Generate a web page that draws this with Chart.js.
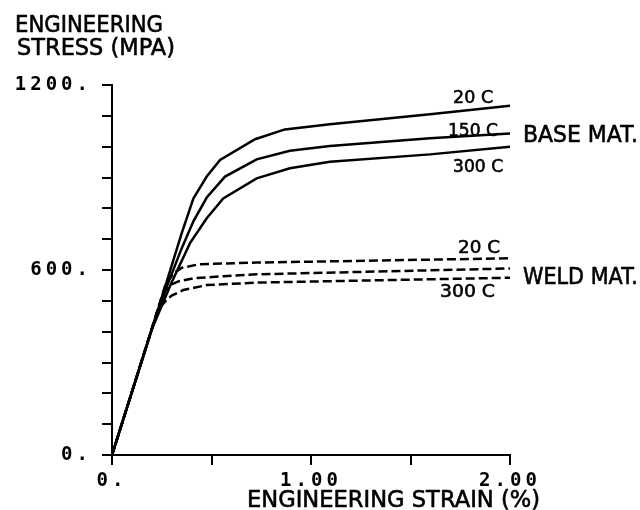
<!DOCTYPE html>
<html>
<head>
<meta charset="utf-8">
<script src="https://cdn.jsdelivr.net/npm/chart.js@4.4.1/dist/chart.umd.min.js"></script>
<style>
  html, body { margin: 0; padding: 0; background: #fff; }
  #wrap { width: 640px; height: 510px; }
</style>
</head>
<body>
<div id="wrap"><canvas id="mycanvas"></canvas></div>
<script>
// strain in %, stress in MPa
var baseStrain20 = [0, 0.233, 0.35, 0.409, 0.476, 0.543, 0.719, 0.869, 1.095, 1.598, 2.0];
var baseStress20 = [0, 475, 719, 832, 903, 957, 1024, 1056, 1073, 1105, 1133];

var baseStrain150 = [0, 0.22, 0.288, 0.35, 0.409, 0.476, 0.568, 0.727, 0.894, 1.095, 1.598, 2.0];
var baseStress150 = [0, 449, 567, 670, 758, 835, 903, 959, 987, 1002, 1027, 1043];

var baseStrain300 = [0, 0.20, 0.30, 0.392, 0.476, 0.559, 0.727, 0.894, 1.095, 1.598, 2.0];
var baseStress300 = [0, 408, 560, 687, 768, 832, 897, 930, 951, 975, 1000];

var weldStrain20 = [0, 0.27, 0.31, 0.35, 0.44, 0.727, 2.0];
var weldStress20 = [0, 555, 590, 607, 619, 624, 638];

var weldStrain150 = [0, 0.26, 0.30, 0.333, 0.409, 0.559, 0.727, 2.0];
var weldStress150 = [0, 530, 553, 563, 573, 580, 586, 605];

var weldStrain300 = [0, 0.23, 0.27, 0.30, 0.358, 0.476, 0.727, 2.0];
var weldStress300 = [0, 470, 500, 517, 535, 551, 559, 575];

var xLabelValues = [0, 1, 2];
var xLabelText = ['0.', '1.00', '2.00'];
var yLabelValues = [0, 600, 1200];
var yLabelText = ['0.', '600.', '1200.'];

var yTitle = ['ENGINEERING', 'STRESS (MPA)'];
var xTitle = 'ENGINEERING STRAIN (%)';
var groupNames = ['BASE MAT.', 'WELD MAT.'];
var tempNames = ['20 C', '150 C', '300 C'];

function pts(xs, ys) {
  var out = [];
  for (var i in xs) {
    out.push({x: xs[i], y: ys[i]});
  }
  return out;
}

function line(label, xs, ys, dashed) {
  return {
    label: label,
    data: pts(xs, ys),
    borderColor: '#000',
    borderWidth: 2.5,
    borderDash: dashed ? [9, 4] : [],
    pointRadius: 0,
    tension: 0,
    fill: false
  };
}

var plotFont = "'DejaVu Sans', sans-serif";
var tickFont = { family: "'DejaVu Sans Mono', monospace", size: 19, weight: 'bold' };

// draw text squeezed/stretched to the lettering width of the plotter
function fitText(ctx, text, x, y, w) {
  var m = ctx.measureText(text).width;
  ctx.save();
  ctx.translate(x, y);
  ctx.scale(w / m, 1);
  ctx.fillText(text, 0, 0);
  ctx.strokeText(text, 0, 0);   // pen strokes are a bit heavier
  ctx.restore();
}

// wide spaced tick numbers
var spacing = {
  id: 'spacing',
  beforeDraw: function(chart) { chart.ctx.letterSpacing = '4px'; },
  beforeDatasetsDraw: function(chart) { chart.ctx.letterSpacing = '0px'; }
};

var notes = {
  id: 'notes',
  afterDraw: function(chart) {
    var ctx = chart.ctx;
    var xs = chart.scales.x, ys = chart.scales.y;
    var px = function(v) { return xs.getPixelForValue(v); };
    var py = function(v) { return ys.getPixelForValue(v); };
    ctx.save();
    ctx.fillStyle = '#000';
    ctx.strokeStyle = '#000';
    ctx.lineWidth = 0.6;
    ctx.textBaseline = 'alphabetic';
    ctx.textAlign = 'left';
    ctx.letterSpacing = '0px';

    ctx.font = '23px ' + plotFont;
    fitText(ctx, yTitle[0], 15, 32, 148);
    fitText(ctx, yTitle[1], 17, 55, 158);
    fitText(ctx, xTitle, 247, 507, 293);
    fitText(ctx, groupNames[0], px(2.065), py(1015), 115);
    fitText(ctx, groupNames[1], px(2.065), py(555), 115);

    ctx.font = '18px ' + plotFont;
    fitText(ctx, tempNames[0], px(1.714), py(1141), 40);
    fitText(ctx, tempNames[1], px(1.688), py(1035), 50);
    fitText(ctx, tempNames[2], px(1.714), py(918), 50);
    fitText(ctx, tempNames[0], px(1.739), py(655), 42);
    fitText(ctx, tempNames[2], px(1.648), py(512), 55);
    ctx.restore();
  }
};

var ctx = document.getElementById('mycanvas');

var chart = new Chart(ctx, {
  type: 'line',
  data: {
    datasets: [
      line('Base 20 C', baseStrain20, baseStress20, false),
      line('Base 150 C', baseStrain150, baseStress150, false),
      line('Base 300 C', baseStrain300, baseStress300, false),
      line('Weld 20 C', weldStrain20, weldStress20, true),
      line('Weld 150 C', weldStrain150, weldStress150, true),
      line('Weld 300 C', weldStrain300, weldStress300, true)
    ]
  },
  options: {
    responsive: true,
    maintainAspectRatio: false,
    animation: false,
    layout: { padding: { left: 0, right: 130, top: 85, bottom: 0 } },
    plugins: {
      legend: { display: false },
      tooltip: { enabled: false }
    },
    scales: {
      x: {
        type: 'linear',
        min: 0,
        max: 2,
        afterFit: function(scale) { scale.height = 55; },
        border: { display: true, color: '#000', width: 2 },
        grid: { drawOnChartArea: false, drawTicks: true, tickLength: 10, color: '#000', lineWidth: 2 },
        ticks: {
          stepSize: 0.5,
          autoSkip: false,
          maxRotation: 0,
          padding: 5,
          color: '#000',
          font: tickFont,
          callback: function(v) {
            var k = xLabelValues.indexOf(v);
            return k < 0 ? '' : xLabelText[k];
          }
        }
      },
      y: {
        type: 'linear',
        min: 0,
        max: 1200,
        afterFit: function(scale) { scale.width = 112; },
        border: { display: true, color: '#000', width: 2 },
        grid: { drawOnChartArea: false, drawTicks: true, tickLength: 10, color: '#000', lineWidth: 2 },
        ticks: {
          stepSize: 100,
          autoSkip: false,
          padding: 10,
          color: '#000',
          font: tickFont,
          callback: function(v) {
            var k = yLabelValues.indexOf(v);
            return k < 0 ? '' : yLabelText[k];
          }
        }
      }
    }
  },
  plugins: [spacing, notes]
});
</script>
</body>
</html>
